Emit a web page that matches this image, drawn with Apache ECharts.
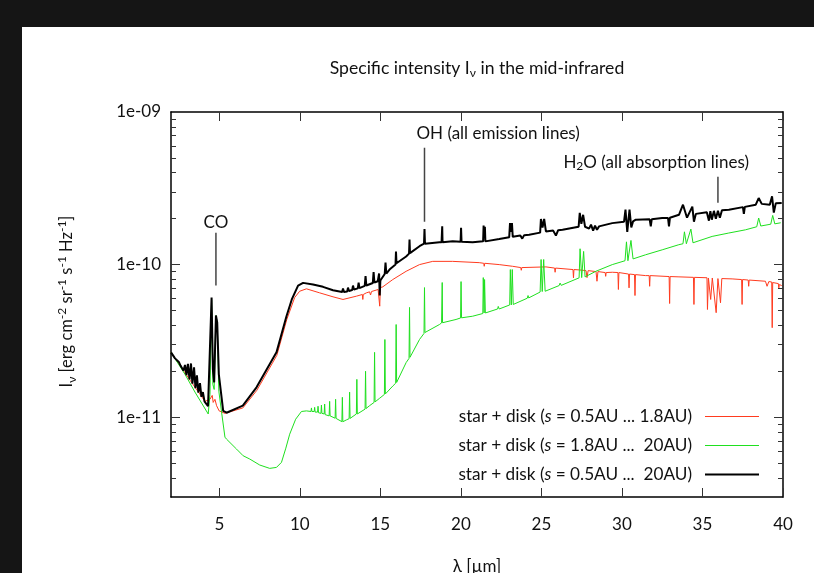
<!DOCTYPE html>
<html>
<head>
<meta charset="utf-8">
<script src="https://cdn.jsdelivr.net/npm/echarts@6/dist/echarts.min.js"></script>
<style>
  html, body { margin: 0; padding: 0; background: #151515; }
  #panel { position: absolute; left: 22px; top: 27px; width: 792px; height: 546px; background: #fff; }
</style>
</head>
<body>
<div id="panel"></div>
<script>
// wavelength [um], I_nu [erg cm^-2 sr^-1 s^-1 Hz^-1]
const redSpectrum = [
  [2.00,2.66e-11],[3.18,1.75e-11],[4.11,1.27e-11],[4.42,1.31e-11],[4.56,1.39e-11],[4.62,1.25e-11],[4.73,1.31e-11],
  [4.83,1.19e-11],[4.99,1.10e-11],[5.35,1.06e-11],[6.46,1.15e-11],[7.33,1.50e-11],[8.57,2.54e-11],[9.19,4.37e-11],
  [9.68,6.09e-11],[9.99,6.69e-11],[10.41,6.94e-11],[11.23,6.53e-11],[12.06,6.15e-11],[12.68,5.91e-11],[13.51,6.21e-11],
  [13.88,6.37e-11],[13.91,5.91e-11],[13.94,6.37e-11],[14.13,6.53e-11],[14.33,6.63e-11],[14.39,6.32e-11],[14.45,6.66e-11],
  [14.86,6.87e-11],[14.92,6.97e-11],[14.96,5.34e-11],[15.00,7.07e-11],[15.15,7.15e-11],[15.77,7.98e-11],[16.60,9.04e-11],
  [17.43,1.00e-10],[18.25,1.05e-10],[19.49,1.05e-10],[21.14,1.03e-10],[21.42,1.02e-10],[21.45,9.75e-11],[21.48,1.02e-10],
  [22.38,1.00e-10],[23.21,9.75e-11],[23.72,9.56e-11],[23.75,9.18e-11],[23.78,9.56e-11],[25.28,9.66e-11],[25.82,9.49e-11],
  [25.85,8.91e-11],[25.88,9.49e-11],[26.96,9.28e-11],[26.99,8.19e-11],[27.02,9.28e-11],[27.34,9.23e-11],[27.77,9.13e-11],
  [27.83,8.22e-11],[27.90,9.13e-11],[28.39,9.00e-11],[28.45,7.78e-11],[28.51,9.00e-11],[28.96,8.87e-11],[28.99,8.38e-11],
  [29.02,8.87e-11],[29.40,8.91e-11],[29.75,8.87e-11],[29.78,6.87e-11],[29.81,8.87e-11],[30.41,8.67e-11],[30.44,7.04e-11],
  [30.47,8.67e-11],[30.78,8.60e-11],[30.81,6.27e-11],[30.84,8.60e-11],[31.47,8.47e-11],[31.69,8.47e-11],[31.72,7.21e-11],
  [31.75,8.47e-11],[32.93,8.35e-11],[32.96,5.56e-11],[32.99,8.35e-11],[33.54,8.31e-11],[34.44,8.25e-11],[34.47,5.48e-11],
  [34.50,8.25e-11],[35.28,8.20e-11],[35.31,5.08e-11],[35.37,8.17e-11],[35.51,5.91e-11],[35.61,8.17e-11],[35.85,4.84e-11],
  [35.96,8.10e-11],[36.12,5.62e-11],[36.20,8.10e-11],[36.84,8.06e-11],[37.43,7.98e-11],[37.46,5.48e-11],[37.49,7.98e-11],
  [37.84,7.92e-11],[37.87,7.21e-11],[37.90,7.92e-11],[38.91,7.78e-11],[39.01,7.21e-11],[39.12,7.74e-11],[39.30,7.69e-11],
  [39.33,3.86e-11],[39.36,7.63e-11],[39.71,7.51e-11],[39.74,7.04e-11],[39.77,7.40e-11],[39.92,7.29e-11]
];

const greenSpectrum = [
  [2.00,2.66e-11],[2.87,1.91e-11],[3.49,1.46e-11],[4.31,1.05e-11],[4.42,1.41e-11],[4.52,5.91e-11],[4.60,1.64e-11],
  [4.68,1.52e-11],[4.79,4.64e-11],[4.87,4.18e-11],[4.97,1.48e-11],[5.14,1.08e-11],[5.35,7.40e-12],[5.45,7.18e-12],
  [6.07,6.18e-12],[6.48,5.59e-12],[6.89,5.32e-12],[7.51,4.86e-12],[8.13,4.62e-12],[8.55,4.69e-12],[8.86,5.06e-12],
  [9.13,6.27e-12],[9.37,7.74e-12],[9.74,9.70e-12],[10.10,1.09e-11],[10.41,1.10e-11],
  [10.69,1.09e-11],[10.72,1.15e-11],[10.75,1.09e-11],[10.89,1.09e-11],[10.92,1.16e-11],[10.95,1.08e-11],
  [11.10,1.08e-11],[11.13,1.18e-11],[11.16,1.07e-11],[11.31,1.06e-11],[11.34,1.20e-11],[11.37,1.06e-11],
  [11.51,1.05e-11],[11.54,1.22e-11],[11.57,1.04e-11],[11.82,1.02e-11],[11.85,1.27e-11],[11.88,1.02e-11],
  [12.19,9.85e-12],[12.22,1.31e-11],[12.25,9.82e-12],[12.61,9.35e-12],[12.64,1.35e-11],[12.67,9.34e-12],
  [12.89,9.60e-12],[13.06,9.78e-12],[13.09,1.46e-11],[13.12,9.82e-12],[13.51,1.05e-11],[13.54,1.77e-11],[13.57,1.05e-11],
  [14.05,1.13e-11],[14.08,2.00e-11],[14.11,1.14e-11],[14.33,1.19e-11],[14.61,1.25e-11],[14.64,2.66e-11],[14.67,1.26e-11],
  [14.95,1.33e-11],[15.25,1.41e-11],[15.28,3.23e-11],[15.31,1.42e-11],[15.77,1.60e-11],[15.95,1.67e-11],[15.98,4.05e-11],
  [16.01,1.69e-11],[16.60,2.28e-11],[16.78,2.43e-11],[16.81,5.24e-11],[16.84,2.47e-11],[17.43,3.23e-11],[17.71,3.54e-11],
  [17.74,7.07e-11],[17.77,3.59e-11],[17.84,3.67e-11],[18.67,4.05e-11],[18.80,4.15e-11],[18.84,7.63e-11],[18.86,4.16e-11],
  [19.70,4.37e-11],[19.98,4.47e-11],[20.01,7.74e-11],[20.04,4.48e-11],[20.73,4.59e-11],[21.36,4.78e-11],[21.39,8.22e-11],
  [21.44,4.82e-11],[21.47,7.98e-11],[21.52,4.82e-11],[22.28,5.12e-11],[22.32,5.32e-11],[22.38,5.12e-11],[23.03,5.44e-11],
  [23.07,9.28e-11],[23.13,5.44e-11],[23.19,9.28e-11],[23.25,5.48e-11],[24.12,6.02e-11],[24.17,6.27e-11],[24.21,6.05e-11],
  [24.92,6.61e-11],[24.98,1.08e-10],[25.05,6.66e-11],[25.14,1.08e-10],[25.23,6.69e-11],[26.10,7.29e-11],[26.16,7.57e-11],
  [26.23,7.31e-11],[27.34,8.19e-11],[27.40,1.27e-10],[27.50,8.22e-11],[27.62,1.22e-10],[27.71,8.31e-11],[28.38,9.04e-11],
  [29.40,1.00e-10],[30.19,1.06e-10],[30.28,1.41e-10],[30.37,1.06e-10],[30.56,1.44e-10],[30.69,1.09e-10],[31.47,1.16e-10],
  [32.50,1.25e-10],[33.53,1.35e-10],[33.79,1.37e-10],[33.88,1.64e-10],[34.00,1.37e-10],[34.28,1.71e-10],[34.41,1.39e-10],
  [35.60,1.53e-10],[36.63,1.61e-10],[37.67,1.69e-10],[38.37,1.77e-10],[38.49,2.02e-10],[38.62,1.79e-10],[39.24,1.84e-10],
  [39.36,2.10e-10],[39.49,1.85e-10],[39.86,1.88e-10]
];

const blackSpectrum = [
  [2.00,2.66e-11],[2.25,2.43e-11],[2.50,2.29e-11],[2.59,2.18e-11],[2.68,2.22e-11],[2.77,2.02e-11],[2.87,2.20e-11],
  [2.96,1.89e-11],[3.05,2.24e-11],[3.15,1.77e-11],[3.24,2.25e-11],[3.33,1.66e-11],[3.43,2.12e-11],[3.52,1.55e-11],
  [3.61,1.88e-11],[3.70,1.45e-11],[3.80,1.67e-11],[3.89,1.36e-11],[3.98,1.46e-11],[4.08,1.27e-11],[4.17,1.29e-11],
  [4.30,1.18e-11],[4.52,6.09e-11],[4.60,2.06e-11],[4.68,1.69e-11],[4.79,4.64e-11],[4.87,4.18e-11],
  [4.97,1.91e-11],[5.24,1.10e-11],[5.45,1.07e-11],[6.46,1.19e-11],[7.31,1.57e-11],[8.55,2.66e-11],[9.17,4.59e-11],
  [9.50,5.91e-11],[9.89,7.29e-11],[10.20,7.59e-11],[10.82,7.40e-11],[11.44,7.15e-11],[12.06,6.79e-11],
  [12.63,6.61e-11],[12.68,6.97e-11],[12.74,6.61e-11],[12.94,6.66e-11],[12.99,7.07e-11],[13.05,6.71e-11],
  [13.25,6.81e-11],[13.30,7.29e-11],[13.36,6.87e-11],[13.60,6.99e-11],[13.65,7.63e-11],[13.70,7.02e-11],
  [14.03,7.26e-11],[14.08,8.41e-11],[14.13,7.29e-11],[14.53,7.57e-11],[14.58,8.93e-11],[14.63,7.63e-11],
  [14.84,7.78e-11],[14.92,8.74e-11],[14.96,6.27e-11],[15.00,7.86e-11],[15.27,8.67e-11],[15.32,1.03e-10],[15.37,8.74e-11],
  [15.57,9.28e-11],[15.94,1.00e-10],[15.97,1.22e-10],[16.00,1.02e-10],[16.60,1.13e-10],[16.78,1.18e-10],[16.81,1.46e-10],
  [16.84,1.19e-10],[17.43,1.32e-10],[17.71,1.37e-10],[17.74,1.71e-10],[17.77,1.37e-10],[18.67,1.40e-10],[18.80,1.40e-10],
  [18.84,1.78e-10],[18.86,1.40e-10],[19.49,1.42e-10],[19.98,1.41e-10],[20.01,1.74e-10],[20.04,1.41e-10],[20.73,1.40e-10],
  [21.38,1.42e-10],[21.41,1.80e-10],[21.45,1.50e-10],[21.49,1.77e-10],[21.52,1.42e-10],[22.38,1.47e-10],
  [23.00,1.51e-10],[23.05,1.87e-10],[23.11,1.64e-10],[23.17,1.87e-10],[23.22,1.52e-10],[23.69,1.55e-10],[23.81,1.48e-10],
  [23.93,1.56e-10],[24.24,1.57e-10],[24.92,1.62e-10],[24.97,1.99e-10],[25.07,1.75e-10],[25.17,1.99e-10],[25.28,1.65e-10],
  [25.73,1.67e-10],[25.90,1.55e-10],[26.04,1.68e-10],[26.31,1.69e-10],[27.31,1.77e-10],[27.38,2.18e-10],[27.48,1.85e-10],
  [27.59,2.12e-10],[27.71,1.77e-10],[27.96,1.72e-10],[28.08,1.83e-10],[28.21,1.67e-10],[28.33,1.80e-10],[28.45,1.69e-10],
  [28.58,1.78e-10],[29.40,1.87e-10],[30.13,1.91e-10],[30.22,2.29e-10],[30.33,1.64e-10],[30.47,2.29e-10],[30.58,1.75e-10],
  [30.69,1.92e-10],[30.86,1.97e-10],[31.72,1.98e-10],[31.79,1.78e-10],[31.85,1.98e-10],[32.50,2.02e-10],[32.86,2.02e-10],
  [32.92,1.78e-10],[32.98,2.03e-10],[33.54,2.12e-10],[33.79,2.47e-10],[34.04,2.03e-10],[34.37,2.40e-10],[34.47,1.91e-10],
  [34.59,2.15e-10],[35.27,2.20e-10],[35.40,1.94e-10],[35.49,2.24e-10],[35.58,1.97e-10],[35.71,2.25e-10],[35.83,2.00e-10],
  [35.96,2.25e-10],[36.08,2.03e-10],[36.21,2.27e-10],[36.64,2.29e-10],[37.51,2.38e-10],[37.57,2.15e-10],[37.63,2.39e-10],
  [38.31,2.47e-10],[38.49,2.73e-10],[38.68,2.50e-10],[39.18,2.47e-10],[39.32,2.80e-10],[39.43,2.19e-10],[39.55,2.52e-10],
  [39.92,2.53e-10]
];

// label pointers: [lambda, I_low], [lambda, I_high]
const pointerCO = [[4.79, 7.29e-11], [4.79, 1.62e-10]];
const pointerOH = [[17.74, 1.91e-10], [17.74, 5.82e-10]];
const pointerH2O = [[35.96, 2.54e-10], [35.96, 3.76e-10]];

const seriesNames = [
  'star + disk (s = 0.5AU ... 1.8AU)',
  'star + disk (s = 1.8AU ...  20AU)',
  'star + disk (s = 0.5AU ...  20AU)'
];
const xTicks = [5, 10, 15, 20, 25, 30, 35, 40];
const yMajorTicks = [1e-11, 1e-10, 1e-9];
const yMinorTicks = [4e-12, 5e-12, 6e-12, 7e-12, 8e-12, 9e-12,
  2e-11, 3e-11, 4e-11, 5e-11, 6e-11, 7e-11, 8e-11, 9e-11,
  2e-10, 3e-10, 4e-10, 5e-10, 6e-10, 7e-10, 8e-10, 9e-10];
const yMin = 3e-12, yMax = 1e-9;

const FONT = 'Lato';
const FS = 17;
const lg = v => Math.log10(v);
const toLog = arr => arr.map(p => [p[0], lg(p[1])]);

const chart = echarts.init(document.getElementById('panel'));

function xAxisDef(pos, labels) {
  return {
    type: 'value', position: pos, min: 2, max: 40,
    splitLine: { show: false },
    axisLine: { show: true, onZero: false, lineStyle: { color: '#000', width: 1.5 } },
    axisTick: { show: true, inside: true, length: 9, customValues: xTicks, lineStyle: { color: '#333', width: 1 } },
    axisLabel: labels ? { show: true, customValues: xTicks, margin: 19, color: '#111', fontFamily: FONT, fontSize: FS } : { show: false },
    name: labels ? 'λ [µm]' : '', nameLocation: 'middle', nameGap: 61,
    nameTextStyle: { color: '#111', fontFamily: FONT, fontSize: FS }
  };
}

function yAxisDef(pos, ticks, len, withLine, labels) {
  return {
    type: 'value', position: pos, min: lg(yMin), max: lg(yMax),
    splitLine: { show: false },
    axisLine: { show: withLine, onZero: false, lineStyle: { color: '#000', width: 1.5 } },
    axisTick: { show: true, inside: true, length: len, customValues: ticks.map(lg), lineStyle: { color: '#333', width: 1 } },
    axisLabel: labels ? {
      show: true, customValues: yMajorTicks.map(lg), margin: 10, color: '#111', fontFamily: FONT, fontSize: FS,
      formatter: v => '1e-' + String(-Math.round(v)).padStart(2, '0')
    } : { show: false },
    name: labels ? 'I{sub|ν} [erg cm{sup|-2} sr{sup|-1} s{sup|-1} Hz{sup|-1}]' : '',
    nameLocation: 'middle', nameGap: 93, nameRotate: 90,
    nameTextStyle: {
      color: '#111', fontFamily: FONT, fontSize: 16.5, lineHeight: 22, padding: [0, 0, 0, 6],
      rich: {
        sub: { fontFamily: FONT, fontSize: 12, lineHeight: 10, verticalAlign: 'bottom', color: '#111' },
        sup: { fontFamily: FONT, fontSize: 12, lineHeight: 10, verticalAlign: 'top', color: '#111' }
      }
    }
  };
}

function pointer(data, text, labelOpts, dx) {
  const pts = toLog(data);
  return {
    type: 'line', silent: true, z: 5,
    symbol: 'circle', symbolSize: 0.1, showSymbol: true,
    lineStyle: { color: '#444', width: 1.5 }, itemStyle: { color: '#444' },
    label: { show: false },
    labelLayout: { hideOverlap: false, dx: dx },
    emphasis: { disabled: true },
    tooltip: { show: false },
    data: pts.map((p, i) => i === 1 ? {
      value: p,
      label: Object.assign({
        show: true, formatter: text, position: 'top', color: '#111', fontFamily: FONT, fontSize: FS, lineHeight: 18,
        rich: { sub: { fontFamily: FONT, fontSize: 12, lineHeight: 8, verticalAlign: 'bottom', color: '#111' } }
      }, labelOpts)
    } : { value: p })
  };
}

chart.setOption({
  animation: false,
  backgroundColor: '#fff',
  title: {
    text: 'Specific intensity I{sub|ν} in the mid-infrared',
    left: 455, top: 30, padding: 0, textAlign: 'center',
    textStyle: {
      color: '#111', fontFamily: FONT, fontSize: 17.6, fontWeight: 'normal', lineHeight: 22,
      rich: { sub: { fontFamily: FONT, fontSize: 12, lineHeight: 10, verticalAlign: 'bottom', color: '#111' } }
    }
  },
  grid: { left: 149, right: 31, top: 85, bottom: 76, outerBoundsMode: 'none' },
  legend: {
    data: [
      { name: seriesNames[0], lineStyle: { width: 1 } },
      { name: seriesNames[1], lineStyle: { width: 1 } },
      { name: seriesNames[2], lineStyle: { width: 2 } }
    ],
    orient: 'vertical', align: 'right', right: 54, top: 381, padding: 0,
    itemWidth: 54, itemHeight: 14, itemGap: 12, selectedMode: false,
    itemStyle: { opacity: 0 },
    formatter: name => name.replace('(s =', '({i|s} ='),
    textStyle: {
      color: '#111', fontFamily: FONT, fontSize: 17.2, lineHeight: 14, width: 248, overflow: 'none',
      padding: [0, 8, 0, 0],
      rich: { i: { fontFamily: FONT, fontSize: 17.2, fontStyle: 'italic', lineHeight: 14, color: '#111' } }
    }
  },
  xAxis: [xAxisDef('bottom', true), xAxisDef('top', false)],
  yAxis: [
    yAxisDef('left', yMajorTicks.slice(0, 2), 9, true, true),
    yAxisDef('right', yMajorTicks.slice(0, 2), 9, true, false),
    yAxisDef('left', yMinorTicks, 5, false, false),
    yAxisDef('right', yMinorTicks, 5, false, false)
  ],
  series: [
    { name: seriesNames[0], type: 'line', data: toLog(redSpectrum), symbol: 'none', z: 2,
      lineStyle: { color: '#ff3b1f', width: 1 }, itemStyle: { color: '#ff3b1f' } },
    { name: seriesNames[1], type: 'line', data: toLog(greenSpectrum), symbol: 'none', z: 3,
      lineStyle: { color: '#1fe01f', width: 1 }, itemStyle: { color: '#1fe01f' } },
    { name: seriesNames[2], type: 'line', data: toLog(blackSpectrum), symbol: 'none', z: 4,
      lineStyle: { color: '#000', width: 2 }, itemStyle: { color: '#000' } },
    pointer(pointerCO, 'CO', { distance: 1 }, 0),
    pointer(pointerOH, 'OH (all emission lines)', { distance: 5, align: 'left' }, -8),
    pointer(pointerH2O, 'H{sub|2}O (all absorption lines)', { distance: 5, align: 'right' }, 31)
  ]
});
</script>
</body>
</html>
